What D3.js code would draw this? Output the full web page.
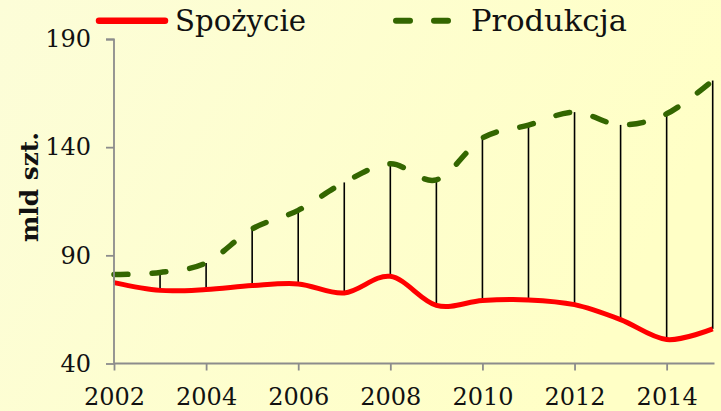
<!DOCTYPE html>
<html><head><meta charset="utf-8">
<script src="https://cdn.jsdelivr.net/npm/d3@7/dist/d3.min.js"></script>
<style>html,body{margin:0;padding:0;background:#fff}svg{display:block}</style>
</head><body>
<svg id="c" width="721" height="411"></svg>
<script>
const years = [2002,2003,2004,2005,2006,2007,2008,2009,2010,2011,2012,2013,2014,2015];
const spozycie = [77.4,73.8,74.2,76.0,76.8,72.6,80.3,66.9,69.1,69.4,67.2,60.3,51.1,56.0];
const produkcja = [81.1,82.1,86.5,102.2,110.8,123.7,132.3,124.9,144.2,150.2,156.2,150.3,155.4,170.8];
const yTicks = [40,90,140,190];
const xTicks = [2002,2004,2006,2008,2010,2012,2014];
const seriesNames = ["Spożycie","Produkcja"];

const svg = d3.select("#c");
const defs = svg.append("defs");
const g = defs.append("linearGradient").attr("id","bg").attr("x1","0").attr("y1","0").attr("x2","1").attr("y2","0.3");
g.append("stop").attr("offset","0").attr("stop-color","#FCFDD8");
g.append("stop").attr("offset","1").attr("stop-color","#FFFFC6");
svg.append("rect").attr("width",721).attr("height",411).attr("fill","url(#bg)");

const x = d3.scaleLinear().domain([2002,2015]).range([114,712.7]);
const y = d3.scaleLinear().domain([40,190]).range([363.5,39]);

// drop lines
svg.append("g").selectAll("line").data(years).join("line")
  .attr("x1",(d)=>x(d)).attr("x2",(d)=>x(d))
  .attr("y1",(d,i)=>y(spozycie[i])).attr("y2",(d,i)=>y(produkcja[i]))
  .attr("stroke","#000").attr("stroke-width",1.6);

const line = (vals)=>d3.line().x((d,i)=>x(years[i])).y(d=>y(d)).curve(d3.curveCardinal.tension(0))(vals);

svg.append("path").attr("d",line(produkcja)).attr("fill","none")
  .attr("stroke","#336600").attr("stroke-width",5.5).attr("stroke-linecap","round")
  .attr("stroke-dasharray","14,24");
svg.append("path").attr("d",line(spozycie)).attr("fill","none")
  .attr("stroke","#FF0000").attr("stroke-width",5).attr("stroke-linejoin","round");

// axes
const font = "'DejaVu Serif', serif";
const yAxis = svg.append("g").attr("transform","translate(114,0)")
  .call(d3.axisLeft(y).tickValues(yTicks).tickSize(8).tickPadding(15).tickFormat(d3.format("d")));
const xAxis = svg.append("g").attr("transform","translate(0,363.5)")
  .call(d3.axisBottom(x).tickValues(xTicks).tickSize(7).tickPadding(17).tickFormat(d3.format("d")));
[yAxis,xAxis].forEach(a=>{
  a.select(".domain").attr("stroke","#8c8c8c").attr("stroke-width",1.8);
  a.selectAll(".tick line").attr("stroke","#8c8c8c").attr("stroke-width",1.8);
  a.selectAll("text").attr("font-family",font).attr("font-size",24).attr("fill","#111");
});
xAxis.select(".domain").attr("d","M114,0H714.5");
yAxis.select(".domain").attr("d","M-8,39.5H0V363.5");

svg.append("text").attr("transform","translate(37.5,187) rotate(-90)")
  .attr("text-anchor","middle").attr("font-family",font).attr("font-weight","bold")
  .attr("font-size",23.5).attr("fill","#111").attr("textLength",110).attr("lengthAdjust","spacingAndGlyphs").text("mld szt.");

// legend
svg.append("line").attr("x1",99).attr("x2",165).attr("y1",20.7).attr("y2",20.7)
  .attr("stroke","#FF0000").attr("stroke-width",6.5).attr("stroke-linecap","round");
svg.append("text").attr("x",175).attr("y",31).attr("font-family",font).attr("font-size",30)
  .attr("textLength",131).attr("lengthAdjust","spacingAndGlyphs").attr("fill","#111").text(seriesNames[0]);
svg.append("line").attr("x1",396).attr("x2",451).attr("y1",20.7).attr("y2",20.7)
  .attr("stroke","#336600").attr("stroke-width",6).attr("stroke-linecap","round").attr("stroke-dasharray","14,24");
svg.append("text").attr("x",471).attr("y",31).attr("font-family",font).attr("font-size",30)
  .attr("textLength",156).attr("lengthAdjust","spacingAndGlyphs").attr("fill","#111").text(seriesNames[1]);
</script>
</body></html>
